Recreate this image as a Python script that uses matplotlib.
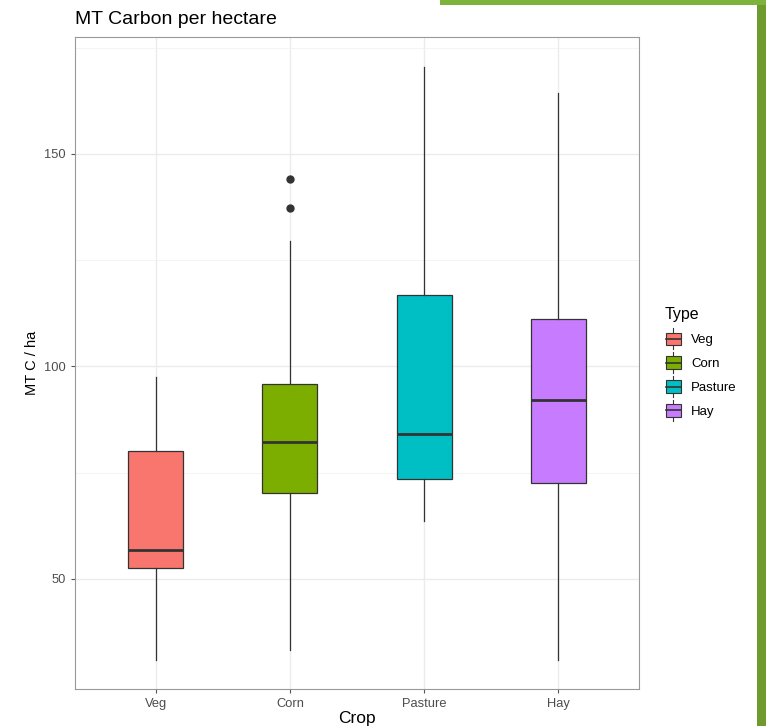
import matplotlib.pyplot as plt
from matplotlib.patches import Rectangle
from matplotlib.lines import Line2D
from matplotlib.legend_handler import HandlerBase

plt.rcParams['font.family'] = ['Liberation Sans', 'DejaVu Sans']

# values
crops = ['Veg', 'Corn', 'Pasture', 'Hay']
colors = ['#F8766D', '#7CAE00', '#00BFC4', '#C77CFF']
whislo = [30.9, 33.3, 63.6, 30.9]
q1 = [52.6, 70.2, 73.5, 72.6]
med = [56.8, 82.1, 84.0, 92.2]
q3 = [80.2, 95.8, 116.7, 111.1]
whishi = [97.4, 129.5, 170.5, 164.4]
outliers = [[], [137.3, 144.1], [], []]

stats = []
for i, c in enumerate(crops):
    stats.append({'label': c, 'whislo': whislo[i], 'q1': q1[i], 'med': med[i],
                  'q3': q3[i], 'whishi': whishi[i], 'fliers': outliers[i]})

fig = plt.figure(figsize=(7.66, 7.26), dpi=100)
ax = fig.add_axes([75/766, 1-689/726, (639-75)/766, (689-37)/726])

bp = ax.bxp(stats, positions=range(1, 5), widths=0.41, patch_artist=True,
            showcaps=False,
            boxprops=dict(edgecolor='#333333', linewidth=0.9),
            medianprops=dict(color='#333333', linewidth=2),
            whiskerprops=dict(color='#333333', linewidth=0.9),
            flierprops=dict(marker='o', markerfacecolor='#333333',
                            markeredgecolor='#333333', markersize=5))
for patch, col in zip(bp['boxes'], colors):
    patch.set_facecolor(col)

ax.set_xlim(0.4, 4.6)
ax.set_ylim(24.1, 177.5)
ax.set_yticks([50, 100, 150])
ax.set_yticks([75, 125, 175], minor=True)
ax.set_xticks(range(1, 5))
ax.set_xticklabels(crops)
ax.grid(True, which='major', color='#EBEBEB', linewidth=1)
ax.grid(True, which='minor', axis='y', color='#F2F2F2', linewidth=0.6)
ax.set_axisbelow(True)
for s in ax.spines.values():
    s.set_color('#999999')
ax.tick_params(axis='both', which='major', colors='#555555', labelsize=9.3,
               length=3, labelcolor='#4D4D4D')
ax.tick_params(axis='both', which='minor', length=0)
ax.set_xlabel('Crop', fontsize=12.5, labelpad=1)
ax.set_ylabel('MT C / ha', fontsize=10.5, labelpad=4)
fig.text(75/766, 1-19/726, 'MT Carbon per hectare', fontsize=14, va='center', ha='left')


class BoxHandler(HandlerBase):
    def create_artists(self, legend, orig_handle, xdescent, ydescent, width, height, fontsize, trans):
        col = orig_handle.get_facecolor()
        w = width * 0.85
        x0 = (width - w) / 2 - xdescent
        h = height * 1.0
        y0 = (height - h) / 2 - ydescent
        r = Rectangle((x0, y0), w, h, facecolor=col, edgecolor='#333333', lw=0.8, transform=trans)
        mid = y0 + h / 2
        m = Line2D([x0, x0 + w], [mid, mid], color='#333333', lw=1.2, transform=trans)
        cx = x0 + w / 2
        t = Line2D([cx, cx], [y0 + h, y0 + h + 3], color='#333333', lw=0.8, transform=trans)
        b = Line2D([cx, cx], [y0 - 3, y0], color='#333333', lw=0.8, transform=trans)
        return [r, m, t, b]


handles = [Rectangle((0, 0), 1, 1, facecolor=c) for c in colors]
leg = fig.legend(handles, crops, title='Type', loc='upper left',
                 bbox_to_anchor=(659/766, 1-302/726), frameon=False,
                 handler_map={Rectangle: BoxHandler()}, fontsize=9.5,
                 handlelength=1.35, handleheight=1.05, labelspacing=0.78,
                 handletextpad=0.7, title_fontsize=11.5, borderaxespad=0)
leg._legend_box.align = 'left'

# slide decoration around the screenshot
fig.patches.append(Rectangle((757/766, 0), 9/766, 1, transform=fig.transFigure,
                             facecolor='#6E9A2E', edgecolor='none'))
fig.patches.append(Rectangle((440/766, 1-5/726), 326/766, 5/726, transform=fig.transFigure,
                             facecolor='#7DB33A', edgecolor='none'))

fig.savefig('out.png', dpi=100)
